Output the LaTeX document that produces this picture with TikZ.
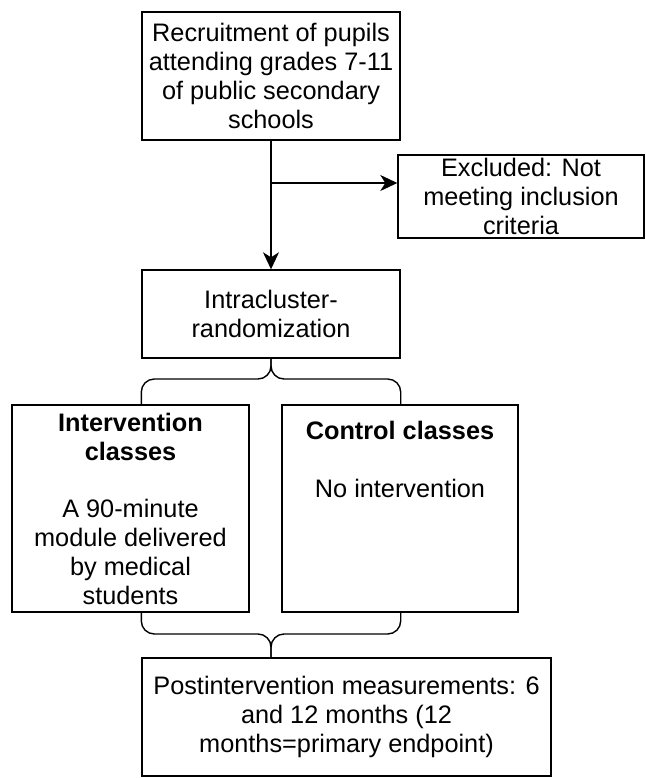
\documentclass[tikz,border=0pt]{standalone}
\usepackage{fontspec}
\setmainfont{Liberation Sans}
\usetikzlibrary{arrows.meta}

\tikzset{
	box/.style={draw, line width=1.4pt, align=center, inner sep=0pt, font=\fontsize{25.3}{29}\selectfont},
	arr/.style={line width=1.4pt, -{Stealth[length=17pt, width=16pt, inset=5pt]}},
	brace/.style={line width=1.4pt, rounded corners=13pt}
}

\begin{document}
\begin{tikzpicture}[x=1pt, y=-1pt]
			%%%%% START %%%%%
			\useasboundingbox (0, 0) rectangle (645, 778);
			
			\node[box, minimum width=258pt, minimum height=128pt] (recruit) at (271, 76) {Recruitment of pupils\\ attending grades 7-11\\ of public secondary\\ schools};
			\node[box, minimum width=246pt, minimum height=83pt] (excl) at (521, 196.5) {Excluded: Not\\ meeting inclusion\\ criteria};
			\node[box, minimum width=258pt, minimum height=88pt] (rand) at (271, 314) {Intracluster-\\ randomization};
			
			\node[box, minimum width=237pt, minimum height=207pt] (interv) at (130.5, 508.5) {\textbf{Intervention}\\ \textbf{classes}\\[28pt] A 90-minute\\ module delivered\\ by medical\\ students};
			\node[box, minimum width=236pt, minimum height=207pt] (ctrl) at (400, 508.5) {};
			\node[font=\fontsize{25.3}{29}\selectfont, align=center, inner sep=0pt, anchor=north] (ctrltxt) at (400, 421) {\textbf{Control classes}\\[29pt] No intervention};
			
			\node[box, minimum width=409pt, minimum height=118pt] (post) at (346.5, 717) {Postintervention measurements: 6\\ and 12 months (12\\ months=primary endpoint)};
			
			% arrows
			\coordinate (split) at (271, 183);
			\draw[arr] (recruit) -- (rand);
			\draw[arr] (split) -- (split -| excl.west);
			
			% braces
			\coordinate (top) at (271, 379);
			\draw[brace] (rand.west |- interv.north) |- (top) -- (rand.south);
			\draw[brace] (rand.east |- interv.north) |- (top) -- (rand.south);
			
			\coordinate (bot) at (271, 634);
			\draw[brace] (rand.west |- interv.south) |- (bot) -- (bot |- post.north);
			\draw[brace] (rand.east |- interv.south) |- (bot) -- (bot |- post.north);
			
			%%%%% END %%%%%
		\end{tikzpicture}
\end{document}
